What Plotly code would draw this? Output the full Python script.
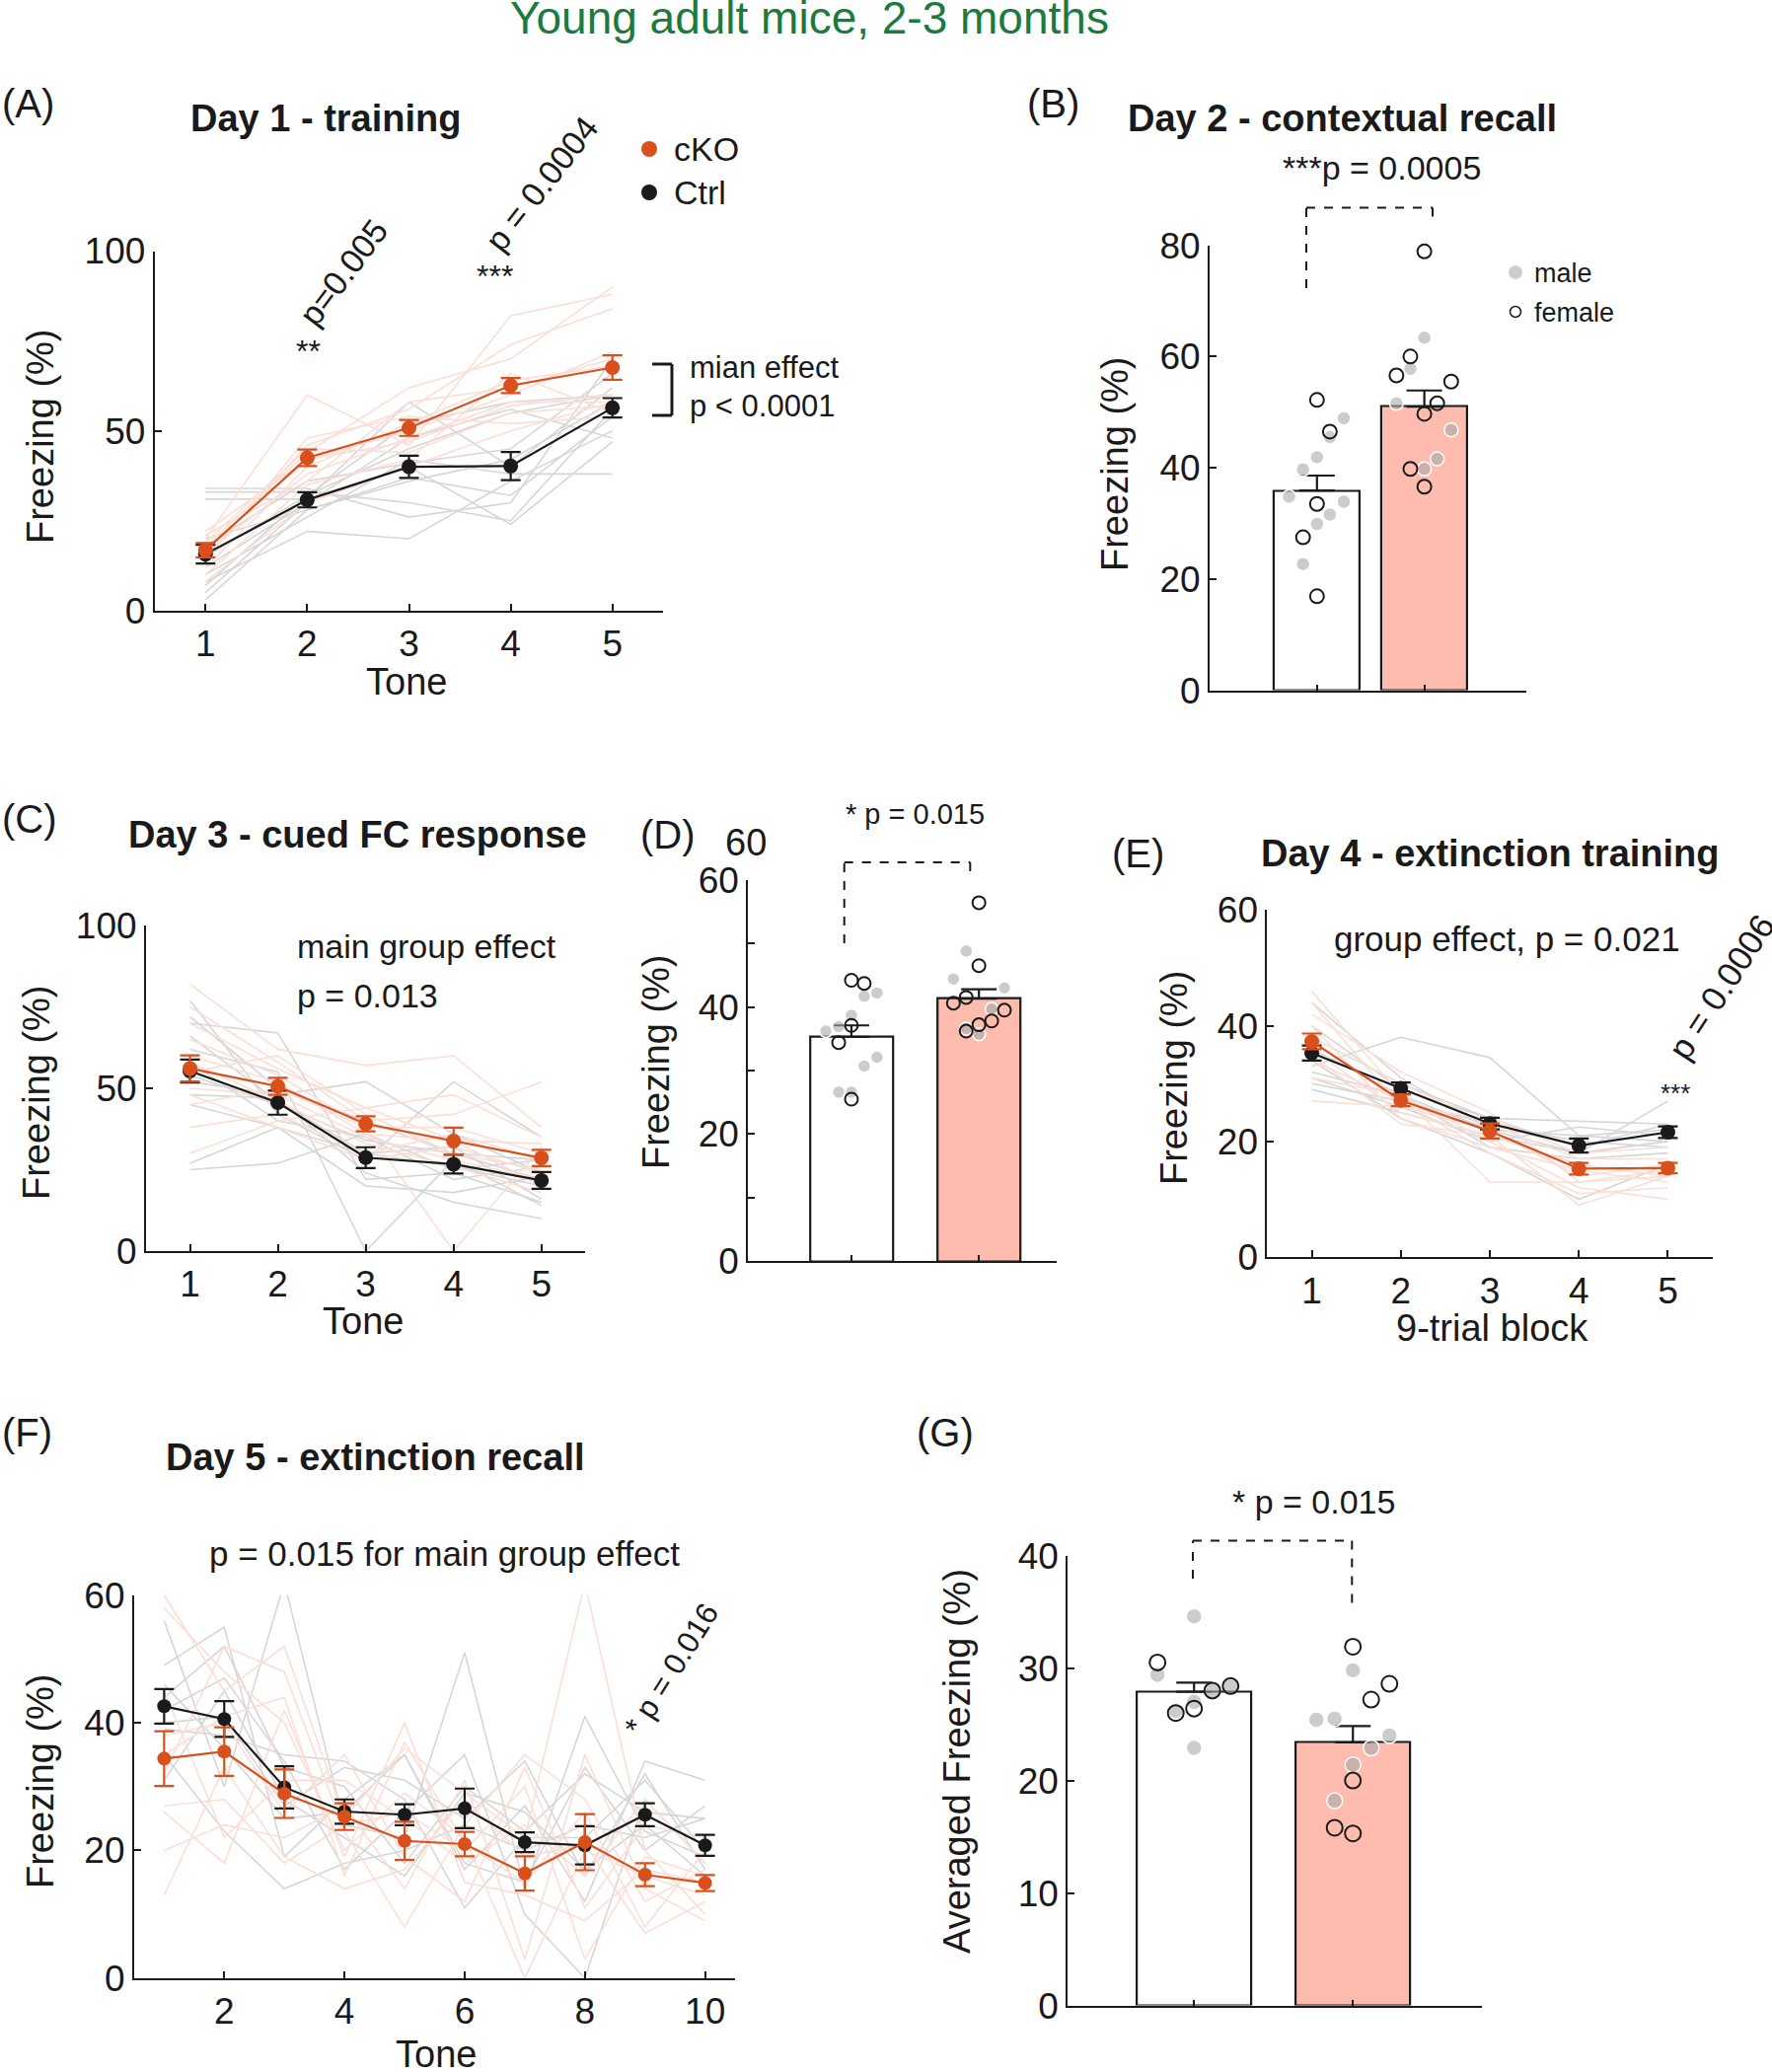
import plotly.graph_objects as go

W, H = 1796, 2100
ORANGE = '#D9501C'
PINK_BAR = '#FDBCAD'
PINK_LINE = 'rgb(251,222,213)'
GRAY_LINE = 'rgb(214,214,214)'
INK = '#1a1a1a'
GREEN = '#1B7A3E'
MALE_FILL = 'rgba(170,170,170,0.6)'
FONT = 'Liberation Sans, Arial, sans-serif'

# ---------------- data ----------------
tones5 = [1, 2, 3, 4, 5]
tones10 = [1, 2, 3, 4, 5, 6, 7, 8, 9, 10]

# (A) Day 1 training
a_cko_mean = [16.8, 42.5, 50.8, 62.6, 67.6]
a_cko_sem = [2.0, 2.3, 2.2, 2.1, 3.4]
a_ctrl_mean = [15.7, 30.8, 40.0, 40.2, 56.4]
a_ctrl_sem = [2.6, 2.1, 3.1, 3.9, 2.7]
a_cko_indiv = [
    [20, 60, 46, 82, 88], [18, 44, 62, 70, 90], [15, 46, 56, 74, 84],
    [22, 42, 50, 60, 72], [12, 40, 52, 64, 68], [16, 38, 48, 58, 58],
    [19, 45, 44, 55, 57], [10, 35, 42, 66, 55], [14, 48, 54, 52, 54],
    [21, 36, 58, 62, 70], [17, 42, 47, 57, 60], [8, 30, 40, 50, 58],
]
a_ctrl_indiv = [
    [34, 34, 26, 30, 70], [33, 33, 30, 25, 56], [31, 31, 58, 40, 62],
    [12, 30, 48, 56, 48], [8, 22, 20, 36, 50], [5, 30, 40, 24, 47],
    [20, 28, 37, 32, 54], [10, 26, 42, 38, 38], [15, 32, 45, 55, 60],
    [3, 28, 36, 42, 58], [18, 36, 41, 45, 66], [7, 32, 52, 58, 60],
]

# (B) Day 2 contextual recall
b_groups = [1, 2]
b_mean = [35.9, 51.0]
b_sem = [2.7, 2.9]
b_ctrl_male = [48.9, 45.5, 41.9, 39.7, 34.8, 33.9, 31.6, 29.9, 22.7]
b_ctrl_male_dx = [0.25, 0.12, 0.0, -0.13, -0.26, 0.25, 0.12, 0.0, -0.13]
b_ctrl_female = [52.2, 46.5, 33.5, 27.5, 16.9]
b_ctrl_female_dx = [0.0, 0.12, 0.0, -0.13, 0.0]
b_cko_male = [63.4, 57.8, 51.6, 46.8, 41.6, 39.8]
b_cko_male_dx = [0.0, -0.13, -0.26, 0.25, 0.12, 0.0]
b_cko_female = [78.9, 60.0, 56.6, 55.5, 51.6, 49.7, 39.8, 36.6]
b_cko_female_dx = [0.0, -0.13, -0.26, 0.25, 0.12, 0.0, -0.13, 0.0]

# (C) Day 3 cued FC response
c_cko_mean = [56.1, 50.6, 39.1, 33.8, 28.6]
c_cko_sem = [4.0, 2.6, 2.3, 4.1, 2.5]
c_ctrl_mean = [55.3, 45.6, 28.7, 26.7, 21.7]
c_ctrl_sem = [3.5, 3.7, 3.2, 2.9, 2.6]
c_cko_indiv = [
    [82, 62, 57, 60, 38], [75, 58, 40, 42, 52], [70, 56, 44, 48, 35],
    [65, 54, 38, 38, 30], [60, 52, 36, 34, 33], [55, 60, 42, 30, 25],
    [50, 48, 35, 28, 22], [45, 50, 38, 0, 32], [38, 42, 30, 36, 28],
    [30, 40, 44, 34, 20], [58, 46, 33, 26, 18], [48, 38, 28, 32, 24],
]
c_ctrl_indiv = [
    [77, 42, 28, 52, 35], [72, 50, 40, 30, 28], [70, 67, 22, 24, 15],
    [66, 46, 30, 26, 20], [62, 55, 0, 28, 14], [58, 40, 35, 22, 26],
    [54, 45, 34, 30, 22], [48, 47, 24, 15, 10], [45, 38, 20, 18, 23],
    [25, 27, 36, 25, 28], [27, 38, 30, 32, 16], [52, 48, 52, 36, 24],
]

# (D) Day 3 averaged
d_groups = [1, 2]
d_mean = [35.3, 41.3]
d_sem = [1.8, 1.5]
d_ctrl_male = [41.7, 42.2, 38.7, 36.2, 36.9, 32.1, 30.7, 26.6, 26.6]
d_ctrl_male_dx = [0.1, 0.2, 0.0, -0.2, -0.1, 0.2, 0.1, -0.1, 0.0]
d_ctrl_female = [44.2, 43.7, 37.1, 34.4, 25.5]
d_ctrl_female_dx = [0.0, 0.1, 0.0, -0.1, 0.0]
d_cko_male = [48.8, 44.4, 43.0, 39.7, 36.6, 35.7]
d_cko_male_dx = [-0.1, -0.2, 0.2, 0.1, -0.1, 0.0]
d_cko_female = [56.4, 46.5, 41.5, 40.6, 39.5, 37.8, 37.2, 36.2]
d_cko_female_dx = [0.0, 0.0, -0.1, -0.2, 0.2, 0.1, 0.0, -0.1]

# (E) Day 4 extinction training
e_cko_mean = [37.3, 27.1, 21.8, 15.3, 15.4]
e_cko_sem = [1.35, 1.0, 1.3, 1.0, 0.9]
e_ctrl_mean = [35.3, 29.2, 23.1, 19.3, 21.6]
e_ctrl_sem = [1.3, 1.0, 1.0, 1.2, 1.0]
e_cko_indiv = [
    [46, 28, 20, 12, 10], [44, 26, 22, 14, 16], [42, 32, 25, 13, 15],
    [40, 24, 19, 15, 13], [38, 30, 23, 17, 17], [36, 25, 21, 16, 14],
    [34, 27, 18, 11, 12], [31, 28, 13, 13, 14], [27, 26, 24, 18, 19],
    [35, 23, 21, 9, 14],
]
e_ctrl_indiv = [
    [44, 31, 22, 18, 27], [33, 38, 34.5, 21, 20], [40, 29, 24, 23.5, 23],
    [36, 28, 22, 21, 22], [31, 26, 20, 22.5, 21], [30, 27, 23, 20, 19],
    [29, 25, 21, 18, 20], [34, 24, 18, 10, 16], [32, 28, 19, 17, 18],
    [38, 30, 24, 19, 23],
]

# (F) Day 5 extinction recall
f_cko_mean = [34.4, 35.5, 28.9, 25.3, 21.5, 21.0, 16.4, 21.3, 16.2, 14.9]
f_cko_sem = [4.3, 3.8, 3.8, 2.1, 3.0, 1.9, 2.7, 4.4, 1.8, 1.25]
f_ctrl_mean = [42.6, 40.6, 29.9, 26.1, 25.6, 26.6, 21.3, 20.8, 25.6, 20.8]
f_ctrl_sem = [2.7, 2.8, 3.3, 1.9, 1.65, 3.1, 1.55, 3.0, 1.8, 1.65]
f_cko_indiv = [
    [60, 45, 52, 25, 36, 29, 22, 62, 20, 10],
    [58, 48, 40, 20, 29, 22, 0, 20, 16, 13],
    [32, 52, 48, 23, 8, 24, 35, 28, 12, 17],
    [26, 18, 42, 19, 40, 15, 13, 9, 17, 15],
    [13, 33, 19, 14, 17, 28, 19, 21, 7, 12],
    [20, 24, 22, 27, 14, 31, 3, 35, 14, 9],
    [45, 22, 31, 31, 25, 18, 24, 16, 28, 18],
    [38, 40, 26, 35, 19, 12, 33, 11, 24, 22],
    [27, 28, 18, 24, 26, 20, 30, 3, 19, 16],
    [35, 41, 44, 16, 37, 21, 15, 26, 8, 20],
]
f_ctrl_indiv = [
    [56, 30, 62, 24, 22, 51, 14, 41, 23, 19],
    [49, 55, 19, 28, 35, 17, 27, 12, 34, 31],
    [44, 52, 33, 30, 18, 30, 23, 32, 26, 25],
    [42, 47, 34, 17, 26, 35, 10, 0, 28, 18],
    [39, 38, 35, 34, 28, 11, 22, 22, 31, 20],
    [46, 36, 25, 26, 35, 18, 15, 33, 20, 27],
    [31, 45, 28, 22, 16, 29, 26, 17, 24, 16],
    [35, 23, 14, 18, 20, 24, 20, 24, 22, 25],
    [40, 41, 27, 33, 31, 25, 34, 16, 32, 17],
]

# (G) Day 5 averaged
g_groups = [1, 2]
g_mean = [27.9, 23.4]
g_sem = [0.8, 1.45]
g_ctrl_male = [34.6, 29.4, 28.4, 28.0, 27.0, 26.2, 22.9]
g_ctrl_male_dx = [0.0, -0.23, 0.23, 0.115, 0.0, -0.115, 0.0]
g_ctrl_female = [30.5, 28.4, 28.0, 26.4, 26.0]
g_ctrl_female_dx = [-0.23, 0.23, 0.115, 0.0, -0.115]
g_cko_male = [29.8, 25.4, 25.5, 24.0, 22.9, 21.4, 18.2]
g_cko_male_dx = [0.0, -0.23, -0.115, 0.23, 0.115, 0.0, -0.115]
g_cko_female = [31.9, 28.6, 27.2, 20.0, 15.8, 15.3]
g_cko_female_dx = [0.0, 0.23, 0.115, 0.0, -0.115, 0.0]

# ---------------- helpers ----------------
def px(x):
    return x / W


def py(y):
    return 1 - y / H


fig = go.Figure()
annotations = []
shapes = []


def txt(s, x, y, size, anchor='center', angle=0, bold=False, color=INK):
    annotations.append(dict(
        text=('<b>%s</b>' % s) if bold else s, x=px(x), y=py(y),
        xref='paper', yref='paper', showarrow=False, xanchor=anchor,
        yanchor='middle', textangle=angle,
        font=dict(family=FONT, size=size, color=color)))


def seg(x0, y0, x1, y1, dash='solid', width=2):
    shapes.append(dict(type='line', xref='paper', yref='paper',
                       x0=px(x0), y0=py(y0), x1=px(x1), y1=py(y1),
                       line=dict(color=INK, width=width, dash=dash)))


def dot(cx, cy, r, fill, line_color, lw=0):
    shapes.append(dict(type='circle', xref='paper', yref='paper',
                       x0=px(cx - r), x1=px(cx + r), y0=py(cy + r), y1=py(cy - r),
                       fillcolor=fill, line=dict(color=line_color, width=lw)))


axes = {}


def make_axes(idx, xdom, ydom, xrange, yrange, xtickvals, ytickvals,
              yticktext=None, xlabels=True, xticks_len=7):
    sx = '' if idx == 1 else str(idx)
    common = dict(showline=True, linecolor=INK, linewidth=2, ticks='inside',
                  tickwidth=2, tickcolor=INK, showgrid=False, zeroline=False,
                  automargin=False, fixedrange=True,
                  tickfont=dict(family=FONT, size=37, color=INK))
    axes['xaxis' + sx] = dict(common, domain=[px(xdom[0]), px(xdom[1])],
                              range=xrange, tickmode='array', tickvals=xtickvals,
                              showticklabels=xlabels, ticklen=xticks_len,
                              anchor='y' + sx)
    yax = dict(common, domain=[py(ydom[1]), py(ydom[0])], range=yrange,
               tickmode='array', tickvals=ytickvals, ticklen=7,
               anchor='x' + sx)
    if yticktext is not None:
        yax['ticktext'] = yticktext
    axes['yaxis' + sx] = yax
    return 'x' + sx, 'y' + sx


def line_panel(xa, ya, xs, cko_indiv, ctrl_indiv, cko_m, cko_s, ctrl_m, ctrl_s,
               msize=15, cap=10):
    for row in ctrl_indiv:
        fig.add_trace(go.Scatter(x=xs, y=row, mode='lines', xaxis=xa, yaxis=ya,
                                 line=dict(color=GRAY_LINE, width=1.6),
                                 showlegend=False, hoverinfo='skip'))
    for row in cko_indiv:
        fig.add_trace(go.Scatter(x=xs, y=row, mode='lines', xaxis=xa, yaxis=ya,
                                 line=dict(color=PINK_LINE, width=1.6),
                                 showlegend=False, hoverinfo='skip'))
    for m, s, col in ((ctrl_m, ctrl_s, INK), (cko_m, cko_s, ORANGE)):
        fig.add_trace(go.Scatter(
            x=xs, y=m, mode='lines+markers', xaxis=xa, yaxis=ya,
            line=dict(color=col, width=2.2),
            marker=dict(color=col, size=msize),
            error_y=dict(type='data', array=s, color=col, thickness=2.2, width=cap),
            showlegend=False))


def bar_panel(xa, ya, groups, means, sems, bw, pts, msize):
    fig.add_trace(go.Bar(
        x=groups, y=means, xaxis=xa, yaxis=ya, width=bw,
        marker=dict(color=['white', PINK_BAR], line=dict(color=INK, width=2.2)),
        error_y=dict(type='data', symmetric=False, array=sems,
                     arrayminus=[0] * len(sems), color=INK, thickness=2.2, width=18),
        showlegend=False))
    for g, vals, dx, female in pts:
        xs = [g + d for d in dx]
        if female:
            mk = dict(symbol='circle', size=msize, color='rgba(0,0,0,0)',
                      line=dict(color=INK, width=2))
        else:
            mk = dict(symbol='circle', size=msize, color=MALE_FILL,
                      line=dict(color='white', width=1.5))
        fig.add_trace(go.Scatter(x=xs, y=vals, mode='markers', xaxis=xa, yaxis=ya,
                                 marker=mk, showlegend=False, cliponaxis=False))


# ---------------- (A) ----------------
xa, ya = make_axes(1, (156.7, 672.3), (254.5, 618.8), [0.5, 5.5], [0, 100],
                   tones5, [0, 50, 100])
line_panel(xa, ya, tones5, a_cko_indiv, a_ctrl_indiv, a_cko_mean, a_cko_sem,
           a_ctrl_mean, a_ctrl_sem)

# ---------------- (B) ----------------
xa, ya = make_axes(2, (1226, 1547), (248.6, 699.6), [0.0, 2.95], [0, 80],
                   b_groups, [0, 20, 40, 60, 80], xlabels=False, xticks_len=6)
bar_panel(xa, ya, b_groups, b_mean, b_sem, 0.8, [
    (1, b_ctrl_male, b_ctrl_male_dx, False), (2, b_cko_male, b_cko_male_dx, False),
    (1, b_ctrl_female, b_ctrl_female_dx, True), (2, b_cko_female, b_cko_female_dx, True)], 14)

# ---------------- (C) ----------------
xa, ya = make_axes(3, (148, 593.3), (938, 1268), [0.5, 5.5], [0, 100],
                   tones5, [0, 50, 100])
line_panel(xa, ya, tones5, c_cko_indiv, c_ctrl_indiv, c_cko_mean, c_cko_sem,
           c_ctrl_mean, c_ctrl_sem)

# ---------------- (D) ----------------
xa, ya = make_axes(4, (758.3, 1071), (891.7, 1278.3), [0.19, 2.61], [0, 60],
                   d_groups, [0, 10, 20, 30, 40, 50, 60],
                   yticktext=['0', '', '20', '', '40', '', '60'],
                   xlabels=False, xticks_len=6)
bar_panel(xa, ya, d_groups, d_mean, d_sem, 0.65, [
    (1, d_ctrl_male, d_ctrl_male_dx, False), (2, d_cko_male, d_cko_male_dx, False),
    (1, d_ctrl_female, d_ctrl_female_dx, True), (2, d_cko_female, d_cko_female_dx, True)], 13)

# ---------------- (E) ----------------
xa, ya = make_axes(5, (1284.4, 1735.6), (922.3, 1274.2), [0.5, 5.5], [0, 60],
                   tones5, [0, 20, 40, 60])
line_panel(xa, ya, tones5, e_cko_indiv, e_ctrl_indiv, e_cko_mean, e_cko_sem,
           e_ctrl_mean, e_ctrl_sem)

# ---------------- (F) ----------------
xa, ya = make_axes(6, (135.9, 745.1), (1616.8, 2004.8), [0.5, 10.5], [0, 60],
                   [2, 4, 6, 8, 10], [0, 20, 40, 60])
line_panel(xa, ya, tones10, f_cko_indiv, f_ctrl_indiv, f_cko_mean, f_cko_sem,
           f_ctrl_mean, f_ctrl_sem, msize=14)

# ---------------- (G) ----------------
xa, ya = make_axes(7, (1082.2, 1502.3), (1576.6, 2032.6), [0.205, 2.814], [0, 40],
                   g_groups, [0, 10, 20, 30, 40], xlabels=False, xticks_len=6)
bar_panel(xa, ya, g_groups, g_mean, g_sem, 0.72, [
    (1, g_ctrl_male, g_ctrl_male_dx, False), (2, g_cko_male, g_cko_male_dx, False),
    (1, g_ctrl_female, g_ctrl_female_dx, True), (2, g_cko_female, g_cko_female_dx, True)], 16)

# ---------------- text ----------------
txt('Young adult mice, 2-3 months', 820, 18, 46, color=GREEN)

for lab, x, y in (('(A)', 0, 105), ('(B)', 1039, 105), ('(C)', 0, 830),
                  ('(D)', 647, 846), ('(E)', 1125, 865), ('(F)', 0, 1452),
                  ('(G)', 927, 1452)):
    txt(lab, x, y, 40, anchor='left')

for t, x, y in (('Day 1 - training', 330, 120), ('Day 2 - contextual recall', 1360, 120),
                ('Day 3 - cued FC response', 362, 846),
                ('Day 4 - extinction training', 1510, 865),
                ('Day 5 - extinction recall', 380, 1477)):
    txt(t, x, y, 38, bold=True)

for x, y in ((41, 442), (1130, 470), (37, 1107), (665, 1076), (1190, 1092), (41, 1805)):
    txt('Freezing (%)', x, y, 38, angle=-90)
txt('Averaged Freezing (%)', 970, 1785, 38, angle=-90)

txt('Tone', 412, 691, 38)
txt('Tone', 368, 1339, 38)
txt('9-trial block', 1512, 1346, 38)
txt('Tone', 442, 2082, 38)

# (A) annotations
txt('**', 312, 356, 32)
txt('p=0.005', 348, 276, 34, angle=-53)
txt('***', 502, 280, 32)
txt('p = 0.0004', 549, 186, 34, angle=-52)
dot(658, 151, 8, ORANGE, ORANGE)
dot(658, 195, 8, INK, INK)
txt('cKO', 681, 151, 34, anchor='left')
txt('Ctrl', 681, 195, 34, anchor='left')
seg(661, 369, 681, 369, width=3)
seg(681, 369, 681, 421, width=3)
seg(661, 421, 681, 421, width=3)
txt('mian effect', 697, 373, 31, anchor='left')
txt('p &lt; 0.0001', 697, 411, 31, anchor='left')

# (B) annotations
txt('***p = 0.0005', 1400, 170, 34)
seg(1324, 292, 1324, 210.6, dash='dash')
seg(1324, 210.6, 1452, 210.6, dash='dash')
seg(1452, 210.6, 1452, 225, dash='dash')
dot(1536, 276, 7, 'rgb(205,205,205)', 'rgb(205,205,205)')
dot(1536, 316, 5.5, 'white', INK, 1.5)
txt('male', 1553, 277, 27, anchor='left')
txt('female', 1553, 317, 27, anchor='left')

# (C)
txt('main group effect', 299, 959, 34, anchor='left')
txt('p = 0.013', 299, 1009, 34, anchor='left')

# (D)
txt('* p = 0.015', 927, 825, 29)
txt('60', 756, 854, 38)
seg(855.7, 956, 855.7, 874, dash='dash')
seg(855.7, 874, 983.3, 874, dash='dash')
seg(983.3, 874, 983.3, 889.3, dash='dash')

# (E)
txt('group effect, p = 0.021', 1527, 951, 35)
txt('***', 1698, 1108, 26)
txt('p = 0.0006', 1744, 1000, 35, angle=-57)

# (F)
txt('p = 0.015 for main group effect', 451, 1574, 35)
txt('* p = 0.016', 680, 1692, 31, angle=-58)

# (G)
txt('* p = 0.015', 1331, 1522, 34)
seg(1209, 1600, 1209, 1561.6, dash='dash')
seg(1209, 1561.6, 1370.3, 1561.6, dash='dash')
seg(1370.3, 1561.6, 1370.3, 1626.6, dash='dash')

fig.update_layout(
    template='none',
    width=W, height=H, margin=dict(l=0, r=0, t=0, b=0, pad=0, autoexpand=False),
    paper_bgcolor='white', plot_bgcolor='white', showlegend=False,
    font=dict(family=FONT, color=INK), bargap=0,
    annotations=annotations, shapes=shapes, **axes)

fig.write_html('out.html', config={'displayModeBar': False},
               post_script="document.body.style.margin='0';")
